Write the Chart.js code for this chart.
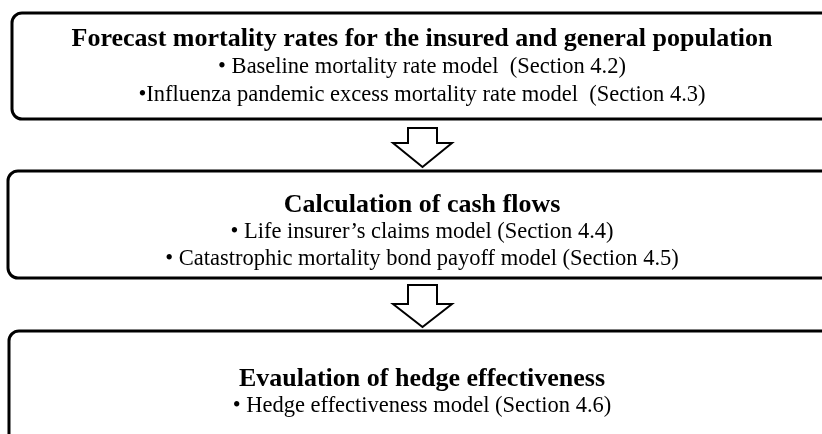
<!DOCTYPE html>
<html lang="en">
<head>
    <meta charset="UTF-8" />
    <title>Hedge flowchart</title>
    <script src="https://cdn.jsdelivr.net/npm/chart.js"></script>
    <style>
        body { margin: 0; background: #fff; }
        #wrap { width: 822px; height: 434px; }
    </style>
</head>
<body>
    <div id="wrap"><canvas id="fluxo"></canvas></div>

<script>
    // etapas do fluxograma
    const stepTitles = [
        'Forecast mortality rates for the insured and general population',
        'Calculation of cash flows',
        'Evaulation of hedge effectiveness'
    ];
    const stepItems = [
        ['\u2022 Baseline mortality rate model \u00a0(Section 4.2)',
         '\u2022Influenza pandemic excess mortality rate model \u00a0(Section 4.3)'],
        ['\u2022 Life insurer\u2019s claims model (Section 4.4)',
         '\u2022 Catastrophic mortality bond payoff model (Section 4.5)'],
        ['\u2022 Hedge effectiveness model (Section 4.6)']
    ];

    // caixas em unidades da escala (x: 0..822, y: 0..434 de cima pra baixo)
    const caixas = [
        { x0: 12, x1: 840, y0: 13, y1: 119, titulo: 46, linhas: [73, 101] },
        { x0: 8,  x1: 840, y0: 171, y1: 278, titulo: 212, linhas: [238, 265] },
        { x0: 9,  x1: 840, y0: 331, y1: 470, titulo: 386, linhas: [412] }
    ];
    const setas = [
        { topo: 128, base: 143, ponta: 167 },
        { topo: 285, base: 304, ponta: 327 }
    ];
    const centroX = 422;
    const fonte = '"Liberation Serif", "Times New Roman", serif';

    const desenhaFluxo = {
        id: 'desenhaFluxo',
        afterDraw(chart) {
            const ctx = chart.ctx;
            const sx = chart.scales.x, sy = chart.scales.y;
            const px = v => sx.getPixelForValue(v);
            const py = v => sy.getPixelForValue(v);
            ctx.save();
            ctx.strokeStyle = '#000';
            ctx.fillStyle = '#000';

            // caixas arredondadas
            ctx.lineWidth = 3;
            caixas.forEach((c, i) => {
                ctx.beginPath();
                ctx.roundRect(px(c.x0), py(c.y0), px(c.x1) - px(c.x0), py(c.y1) - py(c.y0), 10);
                ctx.stroke();

                ctx.textAlign = 'center';
                ctx.textBaseline = 'alphabetic';
                ctx.font = 'bold 26px ' + fonte;
                ctx.fillText(stepTitles[i], px(centroX), py(c.titulo));
                ctx.font = '22.5px ' + fonte;
                stepItems[i].forEach((t, j) => {
                    ctx.fillText(t, px(centroX), py(c.linhas[j]));
                });
            });

            // setas vazadas
            ctx.lineWidth = 2;
            setas.forEach(s => {
                ctx.beginPath();
                ctx.moveTo(px(408), py(s.topo));
                ctx.lineTo(px(437), py(s.topo));
                ctx.lineTo(px(437), py(s.base));
                ctx.lineTo(px(452), py(s.base));
                ctx.lineTo(px(422.5), py(s.ponta));
                ctx.lineTo(px(393), py(s.base));
                ctx.lineTo(px(408), py(s.base));
                ctx.closePath();
                ctx.stroke();
            });
            ctx.restore();
        }
    };

    new Chart(document.getElementById('fluxo'), {
        type: 'scatter',
        data: { datasets: [] },
        options: {
            responsive: true,
            maintainAspectRatio: false,
            animation: false,
            layout: { padding: 0 },
            plugins: { legend: { display: false }, tooltip: { enabled: false } },
            scales: {
                x: { type: 'linear', min: 0, max: 822, display: false },
                y: { type: 'linear', min: 0, max: 434, reverse: true, display: false }
            }
        },
        plugins: [desenhaFluxo]
    });
</script>
</body>
</html>
